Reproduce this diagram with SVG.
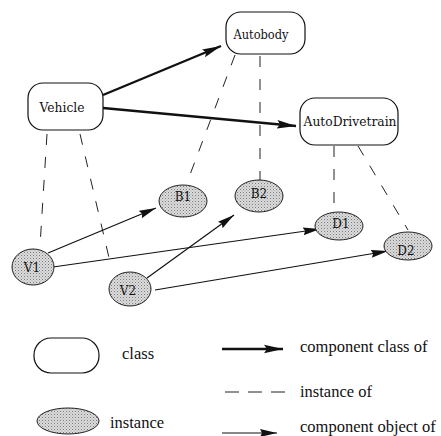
<svg xmlns="http://www.w3.org/2000/svg" width="441" height="436" viewBox="0 0 441 436">
<defs>
<pattern id="dots" width="3" height="3" patternUnits="userSpaceOnUse">
<rect width="3" height="3" fill="#dcdcdc"/>
<rect x="0" y="0" width="1" height="1" fill="#7a7a7a"/>
<rect x="1.5" y="1.5" width="1" height="1" fill="#9c9c9c"/>
</pattern>
<marker id="thick" markerUnits="userSpaceOnUse" markerWidth="20" markerHeight="10" refX="19" refY="5" orient="auto">
<path d="M0,0.8 L19,5 L0,9.2 L3,5 Z" fill="#111"/>
</marker>
<marker id="thin" markerUnits="userSpaceOnUse" markerWidth="18" markerHeight="10" refX="17" refY="5" orient="auto">
<path d="M0,1 L17,5 L0,9 L2,5 Z" fill="#111"/>
</marker>
</defs>
<style>
.cls{fill:#fff;stroke:#111;stroke-width:1.2}
.ins{fill:url(#dots);stroke:#222;stroke-width:1}
.lbl{font-family:'DejaVu Serif','Liberation Serif',serif;font-size:12px;fill:#111;text-anchor:middle}
.leg{font-family:'Liberation Serif','DejaVu Serif',serif;font-size:16.5px;fill:#111}
.dash{stroke:#222;stroke-width:1;stroke-dasharray:11 12;fill:none}
.thk{stroke:#111;stroke-width:2.4;fill:none;marker-end:url(#thick)}
.thn{stroke:#111;stroke-width:1.2;fill:none;marker-end:url(#thin)}
</style>
<rect width="441" height="436" fill="#fff"/>
<g id="connectors">
<line class="dash" x1="47" y1="134" x2="40" y2="246"/>
<line class="dash" x1="80" y1="134" x2="110" y2="262"/>
<line class="dash" x1="235" y1="55" x2="188" y2="180"/>
<line class="dash" x1="260" y1="56" x2="260" y2="180"/>
<line class="dash" x1="334" y1="146" x2="334" y2="212"/>
<line class="dash" x1="358" y1="146" x2="408" y2="230"/>
<line class="thk" x1="103" y1="95" x2="221" y2="46"/>
<line class="thk" x1="103" y1="108" x2="296" y2="126"/>
<line class="thn" x1="48" y1="253" x2="156" y2="208"/>
<line class="thn" x1="53" y1="267" x2="320" y2="229"/>
<line class="thn" x1="147" y1="278" x2="234" y2="215"/>
<line class="thn" x1="155" y1="290" x2="388" y2="251"/>
</g>
<g id="Autobody"><rect class="cls" x="226" y="12" width="79" height="42" rx="15"/><text class="lbl" x="261" y="39" textLength="55" lengthAdjust="spacingAndGlyphs">Autobody</text></g>
<g id="Vehicle"><rect class="cls" x="28" y="83" width="75" height="47" rx="15"/><text class="lbl" x="62" y="112" textLength="45" lengthAdjust="spacingAndGlyphs">Vehicle</text></g>
<g id="AutoDrivetrain"><rect class="cls" x="300" y="98" width="98" height="47" rx="15"/><text class="lbl" x="350" y="126" textLength="93" lengthAdjust="spacingAndGlyphs">AutoDrivetrain</text></g>
<g id="B1"><ellipse class="ins" cx="183" cy="201" rx="24" ry="16"/><text class="lbl" x="183" y="201">B1</text></g>
<g id="B2"><ellipse class="ins" cx="259" cy="196" rx="24" ry="16"/><text class="lbl" x="259" y="198">B2</text></g>
<g id="D1"><ellipse class="ins" cx="339" cy="226" rx="24" ry="14"/><text class="lbl" x="341" y="228">D1</text></g>
<g id="D2"><ellipse class="ins" cx="408" cy="246" rx="24" ry="14"/><text class="lbl" x="406" y="255">D2</text></g>
<g id="V1"><ellipse class="ins" cx="33" cy="267" rx="21" ry="18"/><text class="lbl" x="32" y="272">V1</text></g>
<g id="V2"><ellipse class="ins" cx="130" cy="289" rx="21" ry="17"/><text class="lbl" x="128" y="295">V2</text></g>
<g id="legend">
<rect class="cls" x="34" y="338" width="65" height="35" rx="17"/>
<text class="leg" x="122" y="359">class</text>
<ellipse class="ins" cx="68" cy="421" rx="31" ry="13"/>
<text class="leg" x="110" y="428">instance</text>
<line class="thk" x1="222" y1="349" x2="283" y2="349"/>
<text class="leg" x="300" y="352">component class of</text>
<line class="dash" x1="225" y1="392" x2="288" y2="392" style="stroke-dasharray:14 9"/>
<text class="leg" x="300" y="397">instance of</text>
<line class="thn" x1="222" y1="433" x2="277" y2="433"/>
<text class="leg" x="300" y="432">component object of</text>
</g>
</svg>
